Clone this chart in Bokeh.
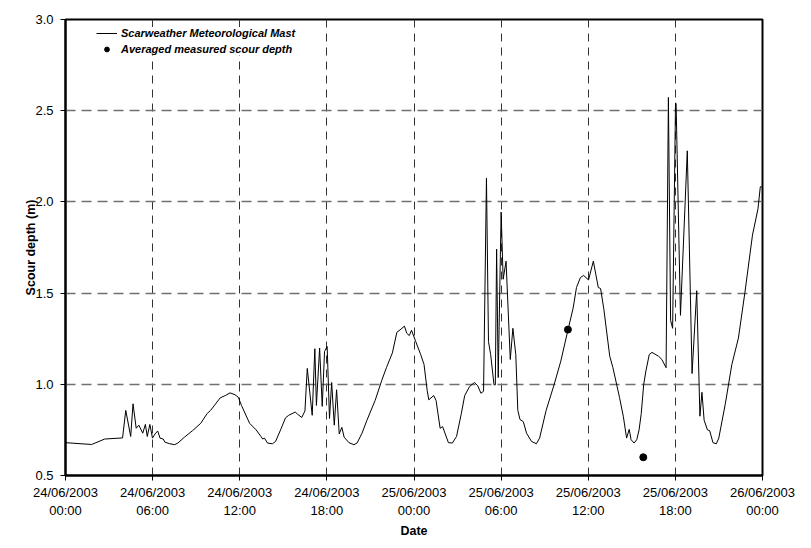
from bokeh.plotting import figure
from bokeh.models import FixedTicker, Legend, LegendItem, Range1d, NumeralTickFormatter
from bokeh.embed import file_html
from bokeh.resources import INLINE

# hours since 24/06/2003 00:00
hours = [0.0, 1.8, 2.7, 3.93, 4.15, 4.49, 4.65, 4.87, 5.05, 5.32, 5.50, 5.63, 5.81, 5.99,
         6.17, 6.35, 6.51, 6.73, 6.84, 7.18, 7.52, 7.74, 8.19, 8.75, 9.31, 9.76, 9.99,
         10.66, 11.00, 11.33, 11.67, 11.90, 12.12, 12.68, 13.13, 13.46, 13.58, 13.70, 13.91,
         14.25, 14.47, 14.81, 15.15, 15.37, 15.82, 15.98, 16.27, 16.49, 16.65, 16.99, 17.17,
         17.28, 17.50, 17.68, 17.84, 18.02, 18.18, 18.33, 18.51, 18.67, 18.85, 19.03, 19.19,
         19.52, 19.86, 20.08, 20.42, 20.76, 21.32, 21.77, 22.10, 22.51, 22.82, 23.11, 23.34,
         23.50, 23.67, 23.83, 24.12, 24.46, 24.69, 24.91, 25.02, 25.36, 25.52, 25.80, 25.97,
         26.37, 26.64, 26.93, 27.26, 27.49, 27.82, 28.16, 28.39, 28.61, 28.79, 28.99, 29.13,
         29.28, 29.51, 29.60, 29.69, 29.80, 30.00, 30.14, 30.34, 30.63, 30.81, 31.01, 31.15,
         31.30, 31.53, 31.75, 32.09, 32.43, 32.65, 33.10, 33.66, 34.11, 34.60, 34.96, 35.19,
         35.46, 35.68, 36.02, 36.35, 36.69, 36.85, 37.07, 37.48, 37.70, 38.15, 38.42, 38.64,
         38.82, 38.95, 39.16, 39.34, 39.50, 39.65, 39.82, 39.97, 40.20, 40.39, 40.84, 41.07,
         41.36, 41.52, 41.67, 41.81, 42.01, 42.05, 42.35, 42.82, 43.15, 43.47, 43.69, 43.83,
         43.98, 44.21, 44.36, 44.59, 44.82, 44.99, 45.44, 45.89, 46.34, 46.79, 47.31, 47.69,
         47.85, 47.95]
scour_depth_mast = [0.68, 0.67, 0.70, 0.706, 0.857, 0.714, 0.893, 0.759, 0.776, 0.732, 0.78, 0.714, 0.78, 0.705,
                    0.728, 0.744, 0.705, 0.70, 0.683, 0.674, 0.669, 0.678, 0.71, 0.746, 0.786, 0.84, 0.857,
                    0.926, 0.938, 0.953, 0.943, 0.929, 0.884, 0.786, 0.75, 0.714, 0.70, 0.705, 0.678,
                    0.674, 0.687, 0.75, 0.816, 0.83, 0.848, 0.836, 0.818, 0.854, 1.087, 0.83, 1.195,
                    0.884, 1.199, 0.879, 1.18, 1.207, 0.812, 1.01, 0.776, 0.97, 0.728, 0.764, 0.71,
                    0.68, 0.669, 0.678, 0.732, 0.803, 0.911, 1.019, 1.091, 1.172, 1.285, 1.303, 1.319,
                    1.28, 1.267, 1.296, 1.234, 1.163, 1.109, 0.965, 0.915, 0.938, 0.911, 0.759, 0.768,
                    0.68, 0.678, 0.714, 0.84, 0.938, 0.987, 1.01, 0.992, 0.951, 0.962, 2.13, 1.234,
                    1.163, 0.997, 0.997, 1.741, 1.037, 1.944, 1.576, 1.675, 1.136, 1.307, 1.163, 0.857,
                    0.807, 0.795, 0.732, 0.687, 0.674, 0.705, 0.857, 1.001, 1.127, 1.297, 1.418, 1.531,
                    1.585, 1.597, 1.572, 1.675, 1.531, 1.525, 1.414, 1.154, 1.091, 0.929, 0.822, 0.705,
                    0.753, 0.696, 0.678, 0.696, 0.75, 0.84, 1.0, 1.073, 1.163, 1.175, 1.154, 1.136,
                    1.091, 2.573, 1.351, 1.307, 2.542, 2.54, 1.378, 2.28, 1.059, 1.513, 0.825, 0.956,
                    0.803, 0.75, 0.746, 0.68, 0.674, 0.705, 0.893, 1.109, 1.253, 1.504, 1.818, 1.962,
                    2.083, 2.083]

measured_hours = [34.6, 39.79]
measured_depth = [1.3, 0.6]

x_tick_hours = [0, 6, 12, 18, 24, 30, 36, 42, 48]
x_tick_labels = ["24/06/2003\n00:00", "24/06/2003\n06:00", "24/06/2003\n12:00", "24/06/2003\n18:00",
                 "25/06/2003\n00:00", "25/06/2003\n06:00", "25/06/2003\n12:00", "25/06/2003\n18:00",
                 "26/06/2003\n00:00"]
y_ticks = [0.5, 1.0, 1.5, 2.0, 2.5, 3.0]

FONT = "Liberation Sans"

p = figure(frame_width=697, frame_height=456, output_backend="svg", toolbar_location=None,
           x_range=Range1d(0, 48), y_range=Range1d(0.5, 3.0))
p.min_border_left = 65
p.min_border_right = 33
p.min_border_top = 19
p.min_border_bottom = 57
p.background_fill_color = "white"
p.border_fill_color = "white"
p.outline_line_color = "black"
p.outline_line_width = 2

line_r = p.line(hours, scour_depth_mast, line_color="black", line_width=1)
dot_r = p.scatter(measured_hours, measured_depth, size=7, color="black")

p.xaxis.ticker = FixedTicker(ticks=x_tick_hours)
p.xaxis.major_label_overrides = {h: lab for h, lab in zip(x_tick_hours, x_tick_labels)}
p.yaxis.ticker = FixedTicker(ticks=y_ticks)
p.yaxis.formatter = NumeralTickFormatter(format="0.0")

for ax in (p.xaxis, p.yaxis):
    ax.axis_line_color = "black"
    ax.axis_line_width = 2
    ax.major_tick_line_color = "black"
    ax.major_tick_line_width = 1
    ax.major_tick_out = 5
    ax.major_tick_in = 0
    ax.minor_tick_line_color = None
    ax.major_label_text_font = FONT
    ax.major_label_text_font_size = "13px"
    ax.major_label_text_color = "black"
    ax.axis_label_text_font = FONT
    ax.axis_label_text_font_size = "12.5px"
    ax.axis_label_text_font_style = "bold"
    ax.axis_label_text_color = "black"

p.xaxis.axis_label = "Date"
p.yaxis.axis_label = "Scour depth (m)"
p.xaxis.major_label_standoff = 4
p.xaxis.axis_label_standoff = 3
p.yaxis.major_label_standoff = 7
p.yaxis.axis_label_standoff = -6

p.xgrid.grid_line_color = "#333333"
p.xgrid.grid_line_width = 1
p.xgrid.grid_line_dash = "8 6"
p.ygrid.grid_line_color = "#707070"
p.ygrid.grid_line_width = 1.5
p.ygrid.grid_line_dash = "10 6"

legend = Legend(items=[LegendItem(label="Scarweather Meteorological Mast", renderers=[line_r]),
                       LegendItem(label="Averaged measured scour depth", renderers=[dot_r])],
                location=(31, 420))
legend.label_text_font = FONT
legend.label_text_font_size = "11px"
legend.label_text_font_style = "bold italic"
legend.label_text_color = "black"
legend.glyph_width = 21
legend.glyph_height = 12
legend.label_height = 12
legend.label_standoff = 4
legend.spacing = 4
legend.padding = 4
legend.margin = 0
legend.border_line_color = None
legend.background_fill_color = "white"
legend.background_fill_alpha = 1.0
p.add_layout(legend)

open("out.html", "w").write(file_html(p, INLINE))
